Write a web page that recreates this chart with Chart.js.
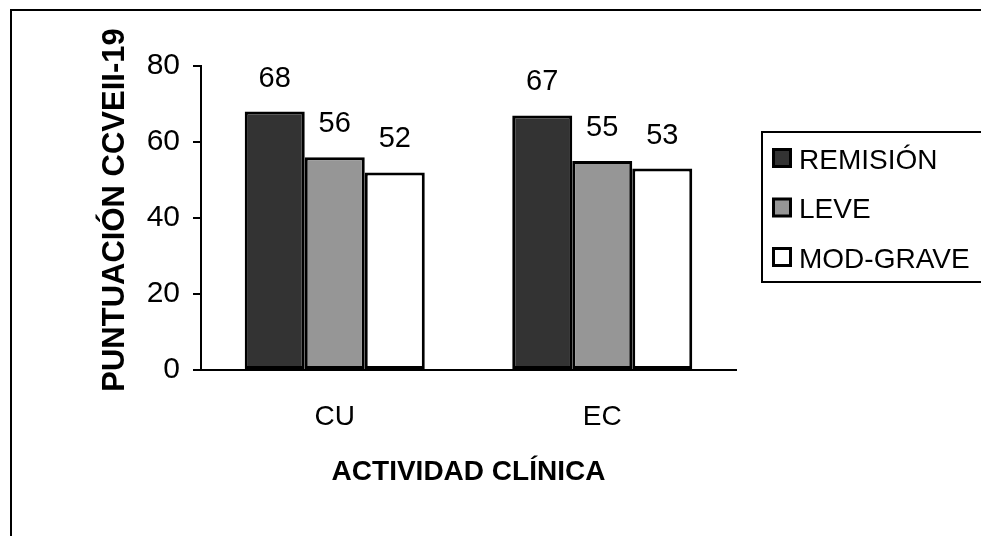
<!DOCTYPE html>
<html>
<head>
<meta charset="utf-8">
<script src="https://cdn.jsdelivr.net/npm/chart.js@4"></script>
<style>
  html, body { margin: 0; padding: 0; background: #fff; }
  #wrap { width: 981px; height: 536px; position: relative; }
</style>
</head>
<body>
<div id="wrap"><canvas id="c" width="981" height="536"></canvas></div>
<script>
const categories = ['CU', 'EC'];
const seriesNames = ['REMISIÓN', 'LEVE', 'MOD-GRAVE'];
const remision = [68, 67];
const leve = [56, 55];
const modGrave = [52, 53];
const yTicks = [0, 20, 40, 60, 80];
const yTitle = 'PUNTUACIÓN CCVEII-19';
const xTitle = 'ACTIVIDAD CLÍNICA';

const FONT = "Arial, 'Liberation Sans', sans-serif";
const colors = ['#333333', '#969696', '#ffffff'];

const framePlugin = {
  id: 'frame',
  beforeDraw(chart) {
    const ctx = chart.ctx;
    ctx.save();
    ctx.fillStyle = '#fff';
    ctx.fillRect(0, 0, chart.width, chart.height);
    ctx.strokeStyle = '#000';
    ctx.lineWidth = 2;
    ctx.strokeRect(11, 10, 1000, 560);
    ctx.restore();
  },
  afterDraw(chart) {
    // y axis title, centred where the reference places it
    const ctx = chart.ctx;
    ctx.save();
    ctx.translate(115, 210);
    ctx.rotate(-Math.PI / 2);
    ctx.fillStyle = '#000';
    ctx.font = 'bold 31px ' + FONT;
    ctx.textAlign = 'center';
    ctx.textBaseline = 'middle';
    ctx.fillText(yTitle, 0, 0);
    ctx.restore();
  }
};

const labelPlugin = {
  id: 'barLabels',
  afterDatasetsDraw(chart) {
    const ctx = chart.ctx;
    ctx.save();
    ctx.fillStyle = '#000';
    ctx.font = '29px ' + FONT;
    ctx.textAlign = 'center';
    ctx.textBaseline = 'middle';
    chart.data.datasets.forEach((ds, i) => {
      const meta = chart.getDatasetMeta(i);
      meta.data.forEach((el, j) => {
        ctx.fillText(String(ds.data[j]), el.x, el.y - 33);
      });
    });
    ctx.restore();
  }
};

const legendPlugin = {
  id: 'boxLegend',
  afterDraw(chart) {
    const ctx = chart.ctx;
    ctx.save();
    ctx.strokeStyle = '#000';
    ctx.lineWidth = 2;
    ctx.fillStyle = '#fff';
    ctx.fillRect(762, 132, 260, 150);
    ctx.strokeRect(762, 132, 260, 150);
    ctx.font = '28px ' + FONT;
    ctx.textBaseline = 'middle';
    ctx.textAlign = 'left';
    chart.data.datasets.forEach((ds, i) => {
      const cy = 158 + i * 49.5;
      ctx.fillStyle = ds.backgroundColor;
      ctx.fillRect(773, cy - 9, 18, 18);
      ctx.lineWidth = 3;
      ctx.strokeStyle = '#000';
      ctx.strokeRect(773.5, cy - 8.5, 17, 17);
      ctx.fillStyle = '#000';
      ctx.fillText(ds.label, 799, cy + 3);
    });
    ctx.restore();
  }
};

const data = {
  labels: categories,
  datasets: [
    { label: seriesNames[0], data: remision, backgroundColor: colors[0] },
    { label: seriesNames[1], data: leve, backgroundColor: colors[1] },
    { label: seriesNames[2], data: modGrave, backgroundColor: colors[2] }
  ].map(d => Object.assign(d, {
    borderColor: '#000', borderWidth: 3, borderSkipped: false,
    barPercentage: 1.0, categoryPercentage: 0.673
  }))
};

Chart.defaults.color = '#000';
Chart.defaults.font.family = FONT;

new Chart(document.getElementById('c'), {
  type: 'bar',
  data,
  plugins: [framePlugin, labelPlugin, legendPlugin],
  options: {
    responsive: false,
    animation: false,
    events: [],
    layout: { padding: { left: 0, top: 66, right: 245, bottom: 0 } },
    plugins: { legend: { display: false }, tooltip: { enabled: false } },
    scales: {
      x: {
        grid: { display: false, drawTicks: false },
        border: { display: true, color: '#000', width: 2 },
        ticks: { font: { size: 28 }, padding: 30, color: '#000' },
        title: { display: true, text: xTitle, font: { size: 28, weight: 'bold' }, padding: { top: 0, bottom: 47 }, color: '#000' },
        afterFit(s) { s.height = 166; }
      },
      y: {
        min: 0, max: 80,
        afterBuildTicks(s) { s.ticks = yTicks.map(v => ({ value: v })); },
        grid: { drawOnChartArea: false, drawTicks: true, tickLength: 8, color: '#000', lineWidth: 2 },
        border: { display: true, color: '#000', width: 2 },
        ticks: { font: { size: 30 }, padding: 13, color: '#000' },
        title: { display: false },
        afterFit(s) { s.width = 201; }
      }
    }
  }
});
</script>
</body>
</html>
